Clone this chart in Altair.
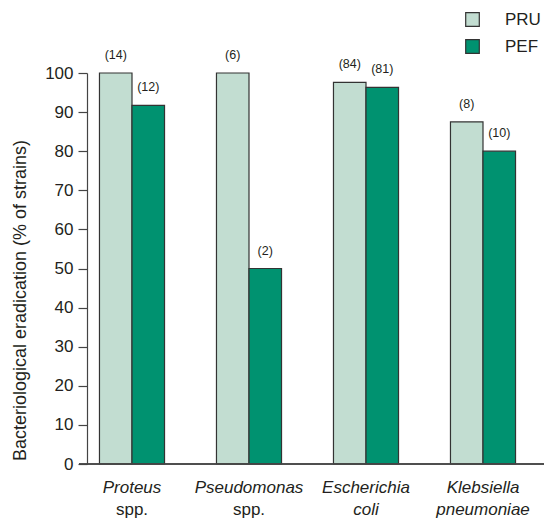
import altair as alt
import pandas as pd

categories = ["Proteus spp.", "Pseudomonas spp.", "Escherichia coli", "Klebsiella pneumoniae"]
line1 = ["Proteus", "Pseudomonas", "Escherichia", "Klebsiella"]
line2 = ["spp.", "spp.", "coli", "pneumoniae"]
line2_italic = [False, False, True, True]
series = ["PRU", "PEF"]
pru = [100, 100, 97.6, 87.5]
pef = [91.7, 50, 96.3, 80]
pru_n = ["(14)", "(6)", "(84)", "(8)"]
pef_n = ["(12)", "(2)", "(81)", "(10)"]
y_ticks = [0, 10, 20, 30, 40, 50, 60, 70, 80, 90, 100]
colors = ["#c2ddd1", "#009270"]

rows = []
for i, c in enumerate(categories):
    rows.append({"cat": c, "series": "PRU", "value": pru[i], "n": pru_n[i]})
    rows.append({"cat": c, "series": "PEF", "value": pef[i], "n": pef_n[i]})
df = pd.DataFrame(rows)
lab = pd.DataFrame({"cat": categories, "l1": line1, "l2": line2, "it": line2_italic})

W, H = 457, 391
FONT = "Liberation Sans"
TXT = "#231f20"
AX = "#444444"

xscale = alt.Scale(domain=categories, range=[-13.5, 454.5], paddingInner=0.444, paddingOuter=0.222)
x = alt.X("cat:N", scale=xscale, axis=None)
xo = alt.XOffset("series:N", scale=alt.Scale(domain=series, paddingInner=0, paddingOuter=0))

yaxis = alt.Axis(values=y_ticks, labelOverlap=False,
                 title="Bacteriological eradication (% of strains)",
                 grid=False, tickSize=9, labelPadding=5, labelFontSize=17,
                 labelFont=FONT, labelColor=TXT, titleFont=FONT, titleFontSize=18,
                 titleFontWeight="normal", titleColor=TXT, domainColor=AX,
                 tickColor=AX, domainWidth=1.2, tickWidth=1.2,
                 titleX=-62, titleY=227, titleBaseline="alphabetic")
yscale = alt.Scale(domain=[0, 100], nice=False)

bars = alt.Chart(df).mark_bar(stroke="#333333", strokeWidth=1.2).encode(
    x=x,
    xOffset=xo,
    y=alt.Y("value:Q", scale=yscale, axis=yaxis),
    color=alt.Color("series:N", scale=alt.Scale(domain=series, range=colors),
                    legend=alt.Legend(title=None, orient="none", legendX=377, legendY=-62,
                                      symbolType="square", symbolSize=185,
                                      symbolStrokeColor="#333333", symbolStrokeWidth=1.2,
                                      labelFont=FONT, labelFontSize=17, labelColor=TXT,
                                      labelOffset=24, rowPadding=8)),
)

nums = alt.Chart(df).mark_text(font=FONT, fontSize=12.5, color=TXT, baseline="middle", dy=-18).encode(
    x=x,
    xOffset=xo,
    y=alt.Y("value:Q", scale=yscale, axis=yaxis),
    text="n:N",
)

xline = alt.Chart(lab).mark_rule(color=AX, strokeWidth=1.2).encode(
    x=alt.value(-8), x2=alt.value(W), y=alt.value(H)
)

t1 = alt.Chart(lab).mark_text(font=FONT, fontSize=17, fontStyle="italic", color=TXT,
                              baseline="middle").encode(x=x, y=alt.value(H + 24), text="l1:N")
t2i = alt.Chart(lab).transform_filter("datum.it").mark_text(
    font=FONT, fontSize=17, fontStyle="italic", color=TXT, baseline="middle"
).encode(x=x, y=alt.value(H + 46), text="l2:N")
t2n = alt.Chart(lab).transform_filter("!datum.it").mark_text(
    font=FONT, fontSize=17, color=TXT, baseline="middle"
).encode(x=x, y=alt.value(H + 46), text="l2:N")

chart = alt.layer(bars, nums, xline, t1, t2i, t2n).properties(
    width=W, height=H,
    autosize=alt.AutoSizeParams(type="none"),
    padding={"left": 79, "top": 65, "right": 0, "bottom": 54},
).configure_view(stroke=None)

chart.save("out.html", embed_options={"renderer": "svg", "actions": False})
